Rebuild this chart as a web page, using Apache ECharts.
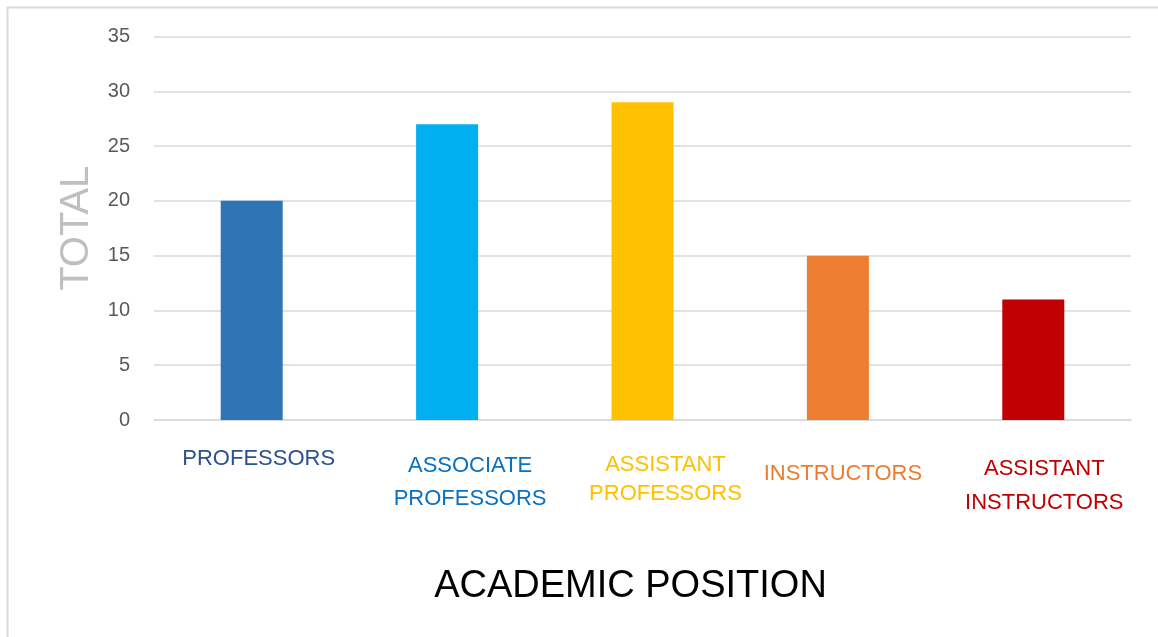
<!DOCTYPE html>
<html>
<head>
<meta charset="utf-8">
<script src="https://cdn.jsdelivr.net/npm/echarts@6/dist/echarts.min.js"></script>
<style>
  html, body { margin: 0; padding: 0; background: #fff; }
  #chart { width: 1158px; height: 637px; }
</style>
</head>
<body>
<div id="chart"></div>
<script>
// Staff counts by academic position
const categories = ['PROFESSORS', 'ASSOCIATE\nPROFESSORS', 'ASSISTANT\nPROFESSORS', 'INSTRUCTORS', 'ASSISTANT\nINSTRUCTORS'];
const totals = [20, 27, 29, 15, 11];
const barColors = ['#2E75B6', '#00B0F0', '#FFC000', '#ED7D31', '#C00000'];
const labelColors = ['#2B5190', '#0A70C2', '#FFC000', '#ED7D31', '#C00000'];
const yTicks = { min: 0, max: 35, interval: 5 };

const font = '"Liberation Sans", Arial, sans-serif';

// one rich style per category label: colour plus a small offset
const labelOffsets = [[13, 7, 33], [27, 23, 33], [28, 23, 29], [45, 5, 30], [31, 11, 34]]; // [top, dx, lineHeight]
const rich = {};
categories.forEach((c, i) => {
  const [top, dx, lh] = labelOffsets[i];
  rich['c' + i] = {
    color: labelColors[i],
    fontSize: 22,
    fontFamily: font,
    lineHeight: lh,
    align: 'center',
    padding: [top, 0, 0, dx * 2]
  };
});

const chart = echarts.init(document.getElementById('chart'), null, { renderer: 'canvas' });
chart.setOption({
  animation: false,
  backgroundColor: '#fff',
  grid: { left: 154, right: 27, top: 36.5, bottom: 217, containLabel: false },
  graphic: [
    { type: 'line', shape: { x1: 7.5, y1: 7, x2: 7.5, y2: 637 }, style: { stroke: '#D9D9D9', lineWidth: 2 } },
    { type: 'line', shape: { x1: 7, y1: 7.5, x2: 1158, y2: 7.5 }, style: { stroke: '#D9D9D9', lineWidth: 2 } }
  ],
  xAxis: {
    type: 'category',
    data: categories,
    name: 'ACADEMIC POSITION',
    nameLocation: 'middle',
    nameGap: 148,
    nameTextStyle: { color: '#000', fontSize: 38, fontFamily: font, padding: [0, 24, 0, 0] },
    axisLine: { lineStyle: { color: '#D9D9D9', width: 1.5 } },
    axisTick: { show: false },
    axisLabel: {
      interval: 0,
      margin: 16,
      formatter: (v, i) => v.split('\n').map(s => '{c' + i + '|' + s + '}').join('\n'),
      rich: rich
    }
  },
  yAxis: {
    type: 'value',
    min: yTicks.min,
    max: yTicks.max,
    interval: yTicks.interval,
    name: 'TOTAL',
    nameLocation: 'middle',
    nameGap: 57,
    nameTextStyle: { color: '#BFBFBF', fontSize: 40, fontFamily: font },
    axisLine: { show: false },
    axisTick: { show: false },
    axisLabel: { color: '#595959', fontSize: 20, fontFamily: font, margin: 24 },
    splitLine: { lineStyle: { color: '#D9D9D9', width: 1.5 } }
  },
  series: [{
    type: 'bar',
    data: totals.map((v, i) => ({ value: v, itemStyle: { color: barColors[i] } })),
    barWidth: 62
  }]
});
</script>
</body>
</html>
